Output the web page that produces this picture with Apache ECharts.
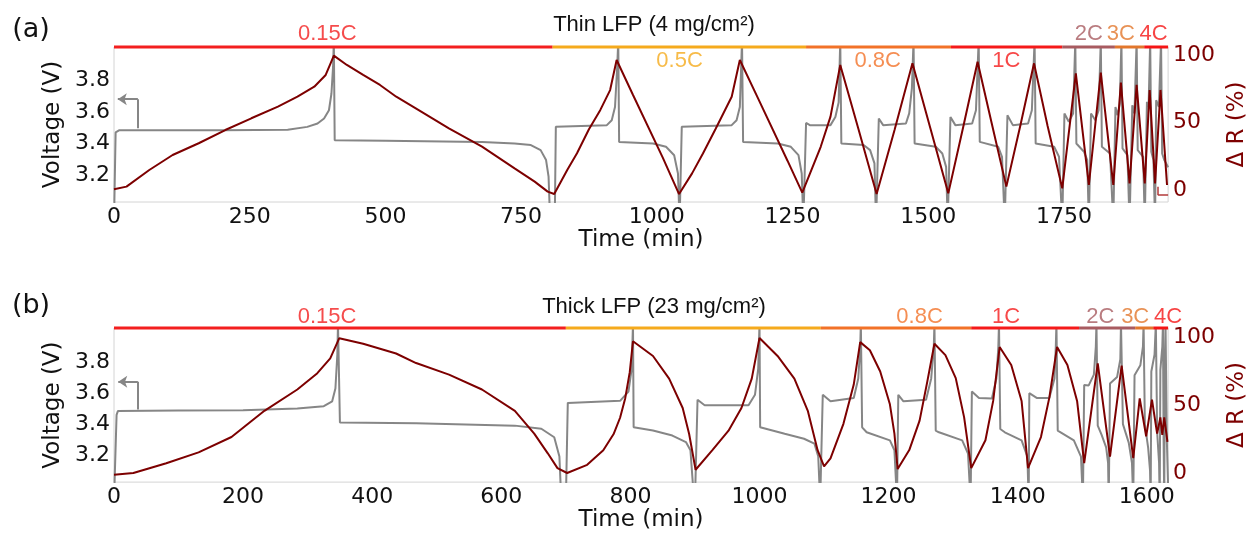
<!doctype html>
<html lang="en">
<head>
<meta charset="UTF-8">
<title>LFP voltage and resistance</title>
<script src="https://cdn.jsdelivr.net/npm/echarts@6/dist/echarts.min.js"></script>
</head>
<body style="margin:0;background:#fff">
<div id="main" style="width:1257px;height:533px;"></div>
<script>
// ---- data: [time (min), value] ----
var voltThin = [[0,2.9],[3,3.47],[10,3.484],[200,3.484],[320,3.487],[356,3.505],[375,3.526],[387,3.558],[396,3.61],[400.6,3.716],
  [403.6,3.884],[405,4.05],[406.6,3.42],[500,3.418],[678,3.41],[738,3.40],[768,3.39],[786,3.358],[796,3.295],[800.6,3.19],
  [803.6,2.9],[812,2.9],[814,3.505],[908,3.516],[917,3.547],[923,3.63],[927,3.88],[929,4.05],[930.6,3.41],[993,3.40],
  [1017,3.379],[1032,3.326],[1039,3.21],[1042,2.9],[1044,2.9],[1046,3.505],[1138,3.516],[1147,3.547],[1153,3.63],[1157,4.05],
  [1159,3.41],[1223,3.40],[1247,3.379],[1261,3.326],[1267,3.21],[1270,2.9],[1273,2.9],[1275,3.53],[1282,3.516],[1320,3.516],
  [1329,3.568],[1335,3.66],[1338,4.05],[1340,3.40],[1381,3.39],[1393,3.358],[1401,3.274],[1404,2.9],[1407,2.9],[1409,3.558],
  [1417,3.516],[1459,3.526],[1465,3.59],[1470,3.75],[1473,4.05],[1475,3.40],[1514,3.379],[1526,3.337],[1533,3.252],[1536,2.9],
  [1539,2.9],[1541,3.568],[1550,3.516],[1581,3.526],[1588,3.61],[1593,4.05],[1595,3.41],[1629,3.379],[1636,3.316],[1641,2.9],
  [1644,2.9],[1646,3.579],[1656,3.516],[1684,3.526],[1691,3.61],[1696,4.05],[1698,3.40],[1732,3.379],[1741,3.316],[1747,2.9],
  [1749,2.9],[1751,3.59],[1759,3.537],[1767,3.59],[1771,4.05],[1773,3.40],[1787,3.348],[1793,3.295],[1796,2.9],[1798,2.9],
  [1800,3.59],[1808,3.547],[1814,3.61],[1818,4.05],[1820,3.379],[1835,3.337],[1841,2.9],[1843,2.9],[1845,3.631],[1849,3.579],
  [1853,3.652],[1856,4.05],[1858,3.369],[1867,3.326],[1871,2.9],[1874,2.9],[1876,3.642],[1880,3.59],[1884,4.05],[1886,3.358],
  [1896,3.316],[1899,2.9],[1901,2.9],[1903,3.663],[1906,3.631],[1909,4.05],[1911,3.348],[1915,3.295],[1918,2.9],[1919,2.9],
  [1920,3.674],[1925,3.631],[1929,4.05],[1931,3.337],[1935,3.295],[1942,3.25]];

var resThin = [[0,0.5],[23,2.5],[65,14.8],[108,25.9],[156,34.6],[205,44.4],[253,53.1],[302,61.7],[338,69.1],[369,76.5],
  [390,85.2],[399,93.8],[405,99.5],[429,92.6],[459,85.2],[490,77.8],[520,69.1],[556,60.5],[617,45.7],[678,32.1],
  [738,16],[775,6.2],[799,-1.2],[811,-3],[835,14.8],[853,27.2],[875,45],[896,59.3],[914,74],[926,96.3],
  [956,70.5],[1011,24],[1041,-3],[1065,12.3],[1085,27],[1108,45],[1123,57],[1138,69],[1153,96.3],[1187,67.5],
  [1241,21.5],[1268,-2],[1302,32],[1320,54.3],[1338,92.6],[1372,44.4],[1405,-3],[1438,44.4],[1471,93.8],[1504,45.7],
  [1537,-2.5],[1564,45.7],[1591,95],[1617,49.4],[1644,2.5],[1670,48.1],[1695,93.8],[1720,47.4],[1747,1.2],[1772,86.4],
  [1796,3.7],[1818,87],[1841,3.7],[1855,79.5],[1871,4.9],[1884,77.8],[1899,4.9],[1908,74.1],[1918,4.9],[1928,74.1],
  [1940,3.7]];

var voltThick = [[0,2.9],[4,3.46],[6,3.484],[100,3.488],[200,3.49],[284,3.50],[325,3.516],[338,3.547],[343,3.63],[346,3.85],
  [347,4.05],[350,3.41],[468,3.405],[621,3.39],[662,3.37],[682,3.315],[690,3.19],[693,2.9],[700,2.9],[703,3.537],
  [784,3.55],[797,3.61],[802,3.758],[804,4.05],[805,3.379],[835,3.358],[865,3.326],[886,3.284],[893,3.231],[897,3.0],
  [900,2.9],[903,2.9],[904,3.557],[915,3.522],[983,3.522],[993,3.589],[998,3.758],[1000,4.05],[1001,3.379],[1039,3.337],
  [1069,3.305],[1085,3.274],[1091,3.19],[1094,2.9],[1096,2.9],[1098,3.589],[1110,3.547],[1146,3.568],[1153,3.695],[1156,3.9],
  [1157,4.05],[1159,3.379],[1166,3.347],[1202,3.295],[1209,3.231],[1213,2.9],[1214,2.9],[1215,3.589],[1223,3.547],[1258,3.557],
  [1266,3.695],[1270,3.9],[1271,4.05],[1273,3.358],[1278,3.347],[1314,3.295],[1323,3.21],[1327,2.9],[1328,2.9],[1329,3.61],
  [1340,3.568],[1360,3.565],[1367,3.695],[1370,3.9],[1371,4.05],[1373,3.368],[1380,3.347],[1406,3.295],[1415,3.19],[1417,2.9],
  [1418,3.6],[1430,3.568],[1449,3.568],[1457,3.695],[1459,3.9],[1460,4.05],[1462,3.358],[1487,3.295],[1498,3.19],[1501,2.9],
  [1502,2.9],[1503,3.652],[1510,3.65],[1518,3.72],[1521,3.9],[1522,4.05],[1524,3.39],[1530,3.33],[1537,3.25],[1540,3.15],
  [1541,2.9],[1542,2.9],[1543,3.663],[1554,3.705],[1559,3.82],[1560,4.05],[1563,3.40],[1572,3.28],[1577,3.15],[1579,2.9],
  [1580,2.9],[1581,3.716],[1590,3.78],[1594,3.9],[1595,4.05],[1597,3.40],[1602,3.25],[1605,3.1],[1606,2.9],[1607,3.74],
  [1612,3.85],[1614,4.05],[1616,3.35],[1619,3.15],[1620,2.9],[1621,3.75],[1624,3.9],[1625,4.05],[1626,3.3],[1627,2.9],
  [1628,3.8],[1629,4.05],[1631,3.3],[1633,3.0]];

var resThick = [[0,-1.2],[30,0],[81,7.2],[131,15.2],[182,26.5],[233,45.8],[284,61.5],[315,73.5],[335,84.4],[349,99.3],
  [386,95.2],[437,88],[468,81],[519,72.5],[570,61.5],[621,45.8],[651,29],[672,14.5],[687,3.6],[702,0],
  [733,6],[758,16.8],[774,28.7],[784,40.7],[792,55.1],[799,74.3],[804,97],[835,86.2],[860,69.5],[881,47.9],
  [891,28.7],[901,2.4],[927,16.8],[952,31.2],[972,47.9],[988,69.5],[1000,99.4],[1028,86.2],[1054,69.5],[1075,45.5],
  [1090,16.8],[1100,4.8],[1110,10.8],[1130,36.2],[1146,65.1],[1156,96.4],[1171,90.4],[1187,74.8],[1202,50.6],[1209,29],
  [1214,2.9],[1232,16.9],[1248,38.6],[1260,67.5],[1271,95.2],[1288,86.8],[1304,69.9],[1317,41],[1328,3.6],[1350,24.1],
  [1362,53.1],[1372,92.8],[1390,79.5],[1406,53.1],[1416,3.6],[1436,26.5],[1449,55.5],[1461,92.8],[1477,79.5],[1492,53.1],
  [1503,7.2],[1524,80.8],[1543,12],[1561,79],[1579,11],[1589,55],[1599,27],[1608,54],[1616,29],[1621,41],
  [1624,28],[1627,41],[1632,23]];

var rates = ['0.15C', '0.5C', '0.8C', '1C', '2C', '3C', '4C'];
var rateEndsThin = [0, 808, 1275, 1542, 1747, 1844, 1898, 1942];
var rateEndsThick = [0, 700, 1095, 1328, 1495, 1582, 1610, 1633];
var timeTicksThin = [0, 250, 500, 750, 1000, 1250, 1500, 1750];
var timeTicksThick = [0, 200, 400, 600, 800, 1000, 1200, 1400, 1600];
var voltTicks = [3.2, 3.4, 3.6, 3.8];
var resTicks = [0, 50, 100];

// ---- style / layout ----
var rateColors = ['#f31f1f', '#f5aa1c', '#f27228', '#f51a1a', '#a85b60', '#e2772c', '#f51515'];
var FONT = 'DejaVu Sans', SANS = 'Liberation Sans';
var GRAY = '#868686', DARK = '#7d0000';

var panels = [
  {volt: voltThin, res: resThin, ends: rateEndsThin, ticks: timeTicksThin, tmax: 1942,
   top: 47, height: 155, vmin: 3.03, vmax: 4.01, rmin: -8.9, rmax: 105.9, nameGap: 24,
   labelAt: [393, 1042, 1407, 1644, 1796, 1855, 1915],
   labelPos: ['top', 'bottom', 'bottom', 'bottom', 'top', 'top', 'top'], labelDist: 2,
   arrow: [44, 3.497, 3.68, 7], tag: '(a)', tagY: 30, title: 'Thin LFP (4 mg/cm²)', titleY: 25},
  {volt: voltThick, res: resThick, ends: rateEndsThick, ticks: timeTicksThick, tmax: 1633,
   top: 328, height: 158, vmin: 3.025, vmax: 4.021, rmin: -6.7, rmax: 106.8, nameGap: 20,
   labelAt: [330, null, 1248, 1382, 1528, 1582, 1633],
   labelPos: ['top', 'top', 'top', 'top', 'top', 'top', 'top'], labelDist: 0,
   arrow: [37, 3.494, 3.674, 6.6], tag: '(b)', tagY: 306, title: 'Thick LFP (23 mg/cm²)', titleY: 307}
];

var option = {animation: false, grid: [], xAxis: [], yAxis: [], series: [], graphic: []};

panels.forEach(function (p, i) {
  option.grid.push({left: 114, top: p.top, width: 1068, height: p.height, show: true,
    borderColor: '#d4d4d4', borderWidth: 1});

  option.xAxis.push({type: 'value', gridIndex: i, min: 0, max: p.tmax,
    name: 'Time (min)', nameLocation: 'middle', nameGap: p.nameGap,
    nameTextStyle: {fontFamily: FONT, fontSize: 23, color: '#111'},
    axisLine: {show: false}, axisTick: {show: false}, splitLine: {show: false},
    axisLabel: {customValues: p.ticks, fontFamily: FONT, fontSize: 22, color: '#111', margin: 4,
      formatter: function (v) { return String(v); }}});

  option.yAxis.push({type: 'value', gridIndex: i, position: 'left', min: p.vmin, max: p.vmax,
    name: 'Voltage (V)', nameLocation: 'middle', nameGap: 41, nameRotate: 90,
    nameTextStyle: {fontFamily: FONT, fontSize: 23, color: '#111'},
    axisLine: {show: false}, axisTick: {show: false}, splitLine: {show: false},
    axisLabel: {customValues: voltTicks, fontFamily: FONT, fontSize: 22, color: '#111', margin: 4,
      formatter: function (v) { return v.toFixed(1); }}});

  option.yAxis.push({type: 'value', gridIndex: i, position: 'right', min: p.rmin, max: p.rmax,
    name: 'Δ R (%)', nameLocation: 'middle', nameGap: 53, nameRotate: 90,
    nameTextStyle: {fontFamily: FONT, fontSize: 23, color: DARK},
    axisLine: {show: false}, axisTick: {show: false}, splitLine: {show: false},
    axisLabel: {customValues: resTicks, fontFamily: FONT, fontSize: 22, color: DARK, margin: 5}});

  var a = p.arrow;
  option.series.push({type: 'line', xAxisIndex: i, yAxisIndex: 2 * i, data: p.volt,
    symbol: 'none', z: 2, lineStyle: {color: GRAY, width: 2},
    markLine: {silent: true, symbol: ['none', 'none'], label: {show: false},
      lineStyle: {color: GRAY, width: 2, type: 'solid'},
      data: [
        [{coord: [a[0], a[1]]}, {coord: [a[0], a[2]]}],
        [{coord: [a[0], a[2]]}, {coord: [a[3], a[2]], symbol: 'arrow', symbolSize: 9}]
      ]}});

  var red = {type: 'line', xAxisIndex: i, yAxisIndex: 2 * i + 1, data: p.res,
    symbol: 'none', z: 3, lineStyle: {color: DARK, width: 2}};
  if (i === 0) {
    red.markLine = {silent: true, symbol: ['none', 'none'], label: {show: false},
      lineStyle: {color: '#b23a3a', width: 1.5, type: 'solid'},
      data: [[{coord: [1923, 2.4]}, {coord: [1923, -3.7]}], [{coord: [1923, -3.7]}, {coord: [1942, -3.7]}]]};
  }
  option.series.push(red);

  // rate bars along the top edge
  var labels = [];
  rates.forEach(function (r, k) {
    option.series.push({type: 'line', xAxisIndex: i, yAxisIndex: 2 * i, silent: true, clip: false,
      data: [[p.ends[k], p.vmax], [p.ends[k + 1], p.vmax]], symbol: 'none', z: 5,
      lineStyle: {color: rateColors[k], width: 3}});
    if (p.labelAt[k] != null) {
      labels.push({value: [p.labelAt[k], p.vmax],
        label: {show: true, position: p.labelPos[k], distance: p.labelDist, formatter: r,
          color: rateColors[k], fontFamily: SANS, fontSize: 22}});
    }
  });
  option.series.push({type: 'scatter', xAxisIndex: i, yAxisIndex: 2 * i, silent: true, clip: false,
    symbolSize: 1, itemStyle: {color: 'rgba(0,0,0,0)'}, z: 6, data: labels});

  option.graphic.push({type: 'text', x: 31, y: p.tagY,
    style: {text: p.tag, font: '27px "DejaVu Sans"', fill: '#111', align: 'center', verticalAlign: 'middle'}});
  option.graphic.push({type: 'text', x: 654, y: p.titleY,
    style: {text: p.title, font: '22px "Liberation Sans"', fill: '#111', align: 'center', verticalAlign: 'middle'}});
});

var chart = echarts.init(document.getElementById('main'), null, {renderer: 'canvas'});
chart.setOption(option);
</script>
</body>
</html>
